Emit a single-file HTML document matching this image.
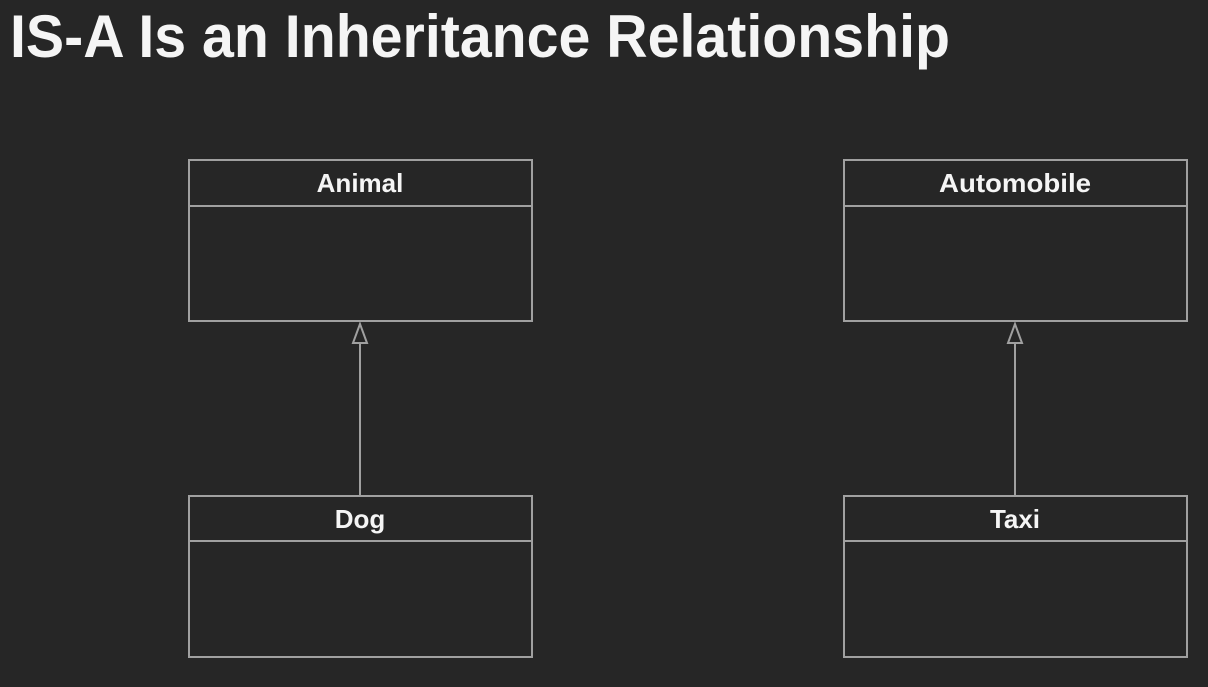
<html><body style="margin:0;background:#262626">
<svg width="1208" height="687" xmlns="http://www.w3.org/2000/svg" style="display:block">
<rect width="1208" height="687" fill="#262626"/>
<text x="10" y="57" font-family="Liberation Sans, sans-serif" font-weight="bold" font-size="60" fill="#f5f5f5" textLength="940" lengthAdjust="spacingAndGlyphs">IS-A Is an Inheritance Relationship</text>
<g fill="none" stroke="#a0a0a0" stroke-width="2">
<rect x="189" y="160" width="343" height="161"/><line x1="189" y1="206" x2="532" y2="206"/>
<rect x="189" y="496" width="343" height="161"/><line x1="189" y1="541" x2="532" y2="541"/>
<rect x="844" y="160" width="343" height="161"/><line x1="844" y1="206" x2="1187" y2="206"/>
<rect x="844" y="496" width="343" height="161"/><line x1="844" y1="541" x2="1187" y2="541"/>
<line x1="360" y1="496" x2="360" y2="343"/><polygon points="360,324 353,343 367,343"/>
<line x1="1015" y1="496" x2="1015" y2="343"/><polygon points="1015,324 1008,343 1022,343"/>
</g>
<g font-family="Liberation Sans, sans-serif" font-weight="bold" font-size="26" fill="#f5f5f5" text-anchor="middle">
<text x="360" y="192">Animal</text>
<text x="360" y="528">Dog</text>
<text x="1015" y="192" textLength="152" lengthAdjust="spacingAndGlyphs">Automobile</text>
<text x="1015" y="528">Taxi</text>
</g>
</svg>
</body></html>
